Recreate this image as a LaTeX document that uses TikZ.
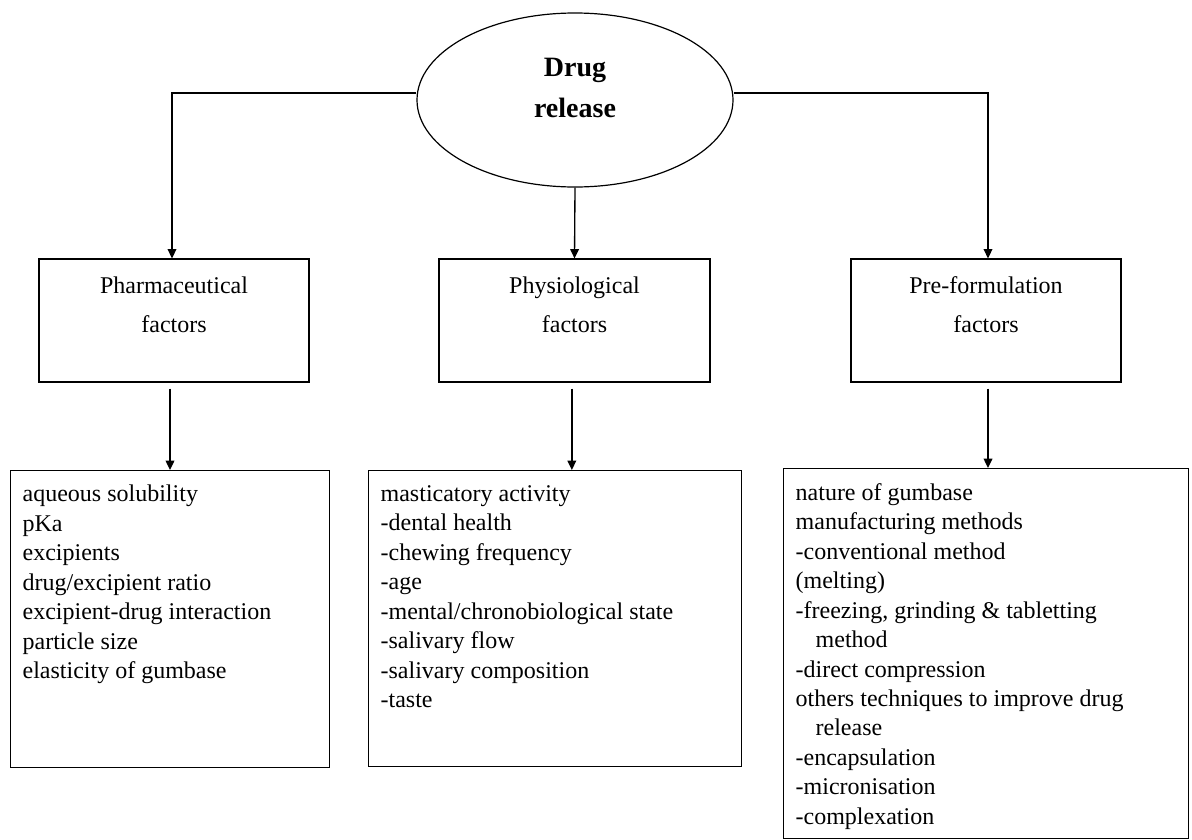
\documentclass[tikz,border=0pt]{standalone}
\usepackage{fontspec}
\setmainfont{Liberation Serif}
\usetikzlibrary{positioning,shapes.geometric,arrows.meta}
\tikzset{
  rootnode/.style={draw,ellipse,line width=0.9pt,minimum width=237pt,minimum height=130.5pt,inner sep=0pt},
  factorbox/.style={draw,line width=1.1pt,minimum width=202.5pt,minimum height=92pt,inner sep=0pt},
  listbox/.style={draw,line width=1.1pt,anchor=north west,inner sep=0pt},
  listtext/.style={inner sep=0pt,align=left,font=\fontsize{18}{22.1}\selectfont},
  headtext/.style={align=center,font=\fontsize{18}{29}\selectfont}
}
\begin{document}
\begin{tikzpicture}[>={Triangle[length=7pt,width=6.5pt]},x=0.75pt,y=-0.75pt,line width=1pt]
	\useasboundingbox (0,0) rectangle (1192,839);
	% top
	\node[rootnode] (release) at (575,100) {};
	\node[align=center,font=\fontsize{21}{31}\selectfont\bfseries,yshift=9pt] (releasetxt) at (release.center) {Drug\\release};
	% factors
	\node[factorbox] (pharma) at (174,320.5) {};
	\node[factorbox,minimum width=203.25pt] (physio) at (574.5,320.5) {};
	\node[factorbox] (preform) at (986,320.5) {};
	\node[headtext,yshift=12pt] (pharmatxt) at (pharma.center) {Pharmaceutical\\factors};
	\node[headtext,yshift=12pt] (physiotxt) at (physio.center) {Physiological\\factors};
	\node[headtext,yshift=12pt] (preformtxt) at (preform.center) {Pre-formulation\\factors};
	% lists
	\node[listbox,minimum width=239.25pt,minimum height=222.75pt] (listA) at (10,470) {};
	\node[listbox,minimum width=279.75pt,minimum height=222pt] (listB) at (368,470) {};
	\node[listbox,minimum width=303.75pt,minimum height=277.5pt] (listC) at (783,468) {};
	\node[listtext,below right=11pt and 9pt of listA.north west] (itemsA) {aqueous solubility\\pKa\\excipients\\drug/excipient ratio\\excipient-drug interaction\\particle size\\elasticity of gumbase};
	\node[listtext,below right=11pt and 9pt of listB.north west] (itemsB) {masticatory activity\\-dental health\\-chewing frequency\\-age\\-mental/chronobiological state\\-salivary flow\\-salivary composition\\-taste};
	\node[listtext,below right=11pt and 9pt of listC.north west] (itemsC) {nature of gumbase\\manufacturing methods\\-conventional method\\(melting)\\-freezing, grinding \& tabletting\\\hspace*{15pt}method\\-direct compression\\others techniques to improve drug\\\hspace*{15pt}release\\-encapsulation\\-micronisation\\-complexation};
	% connectors
	\draw[->] ([yshift=5.25pt]release.west) -| ([xshift=-1.5pt]pharma.north);
	\draw[->] (release.south) -- (physio.north);
	\draw[->] ([yshift=5.25pt]release.east) -| ([xshift=1.5pt]preform.north);
	\draw[->,shorten <=4.5pt] ([xshift=-3pt]pharma.south) -- ([xshift=-3pt]pharma.south |- listA.north);
	\draw[->,shorten <=4.5pt] ([xshift=-2pt]physio.south) -- ([xshift=-2pt]physio.south |- listB.north);
	\draw[->,shorten <=4.5pt] ([xshift=1.5pt]preform.south) -- ([xshift=1.5pt]preform.south |- listC.north);
\end{tikzpicture}
\end{document}
